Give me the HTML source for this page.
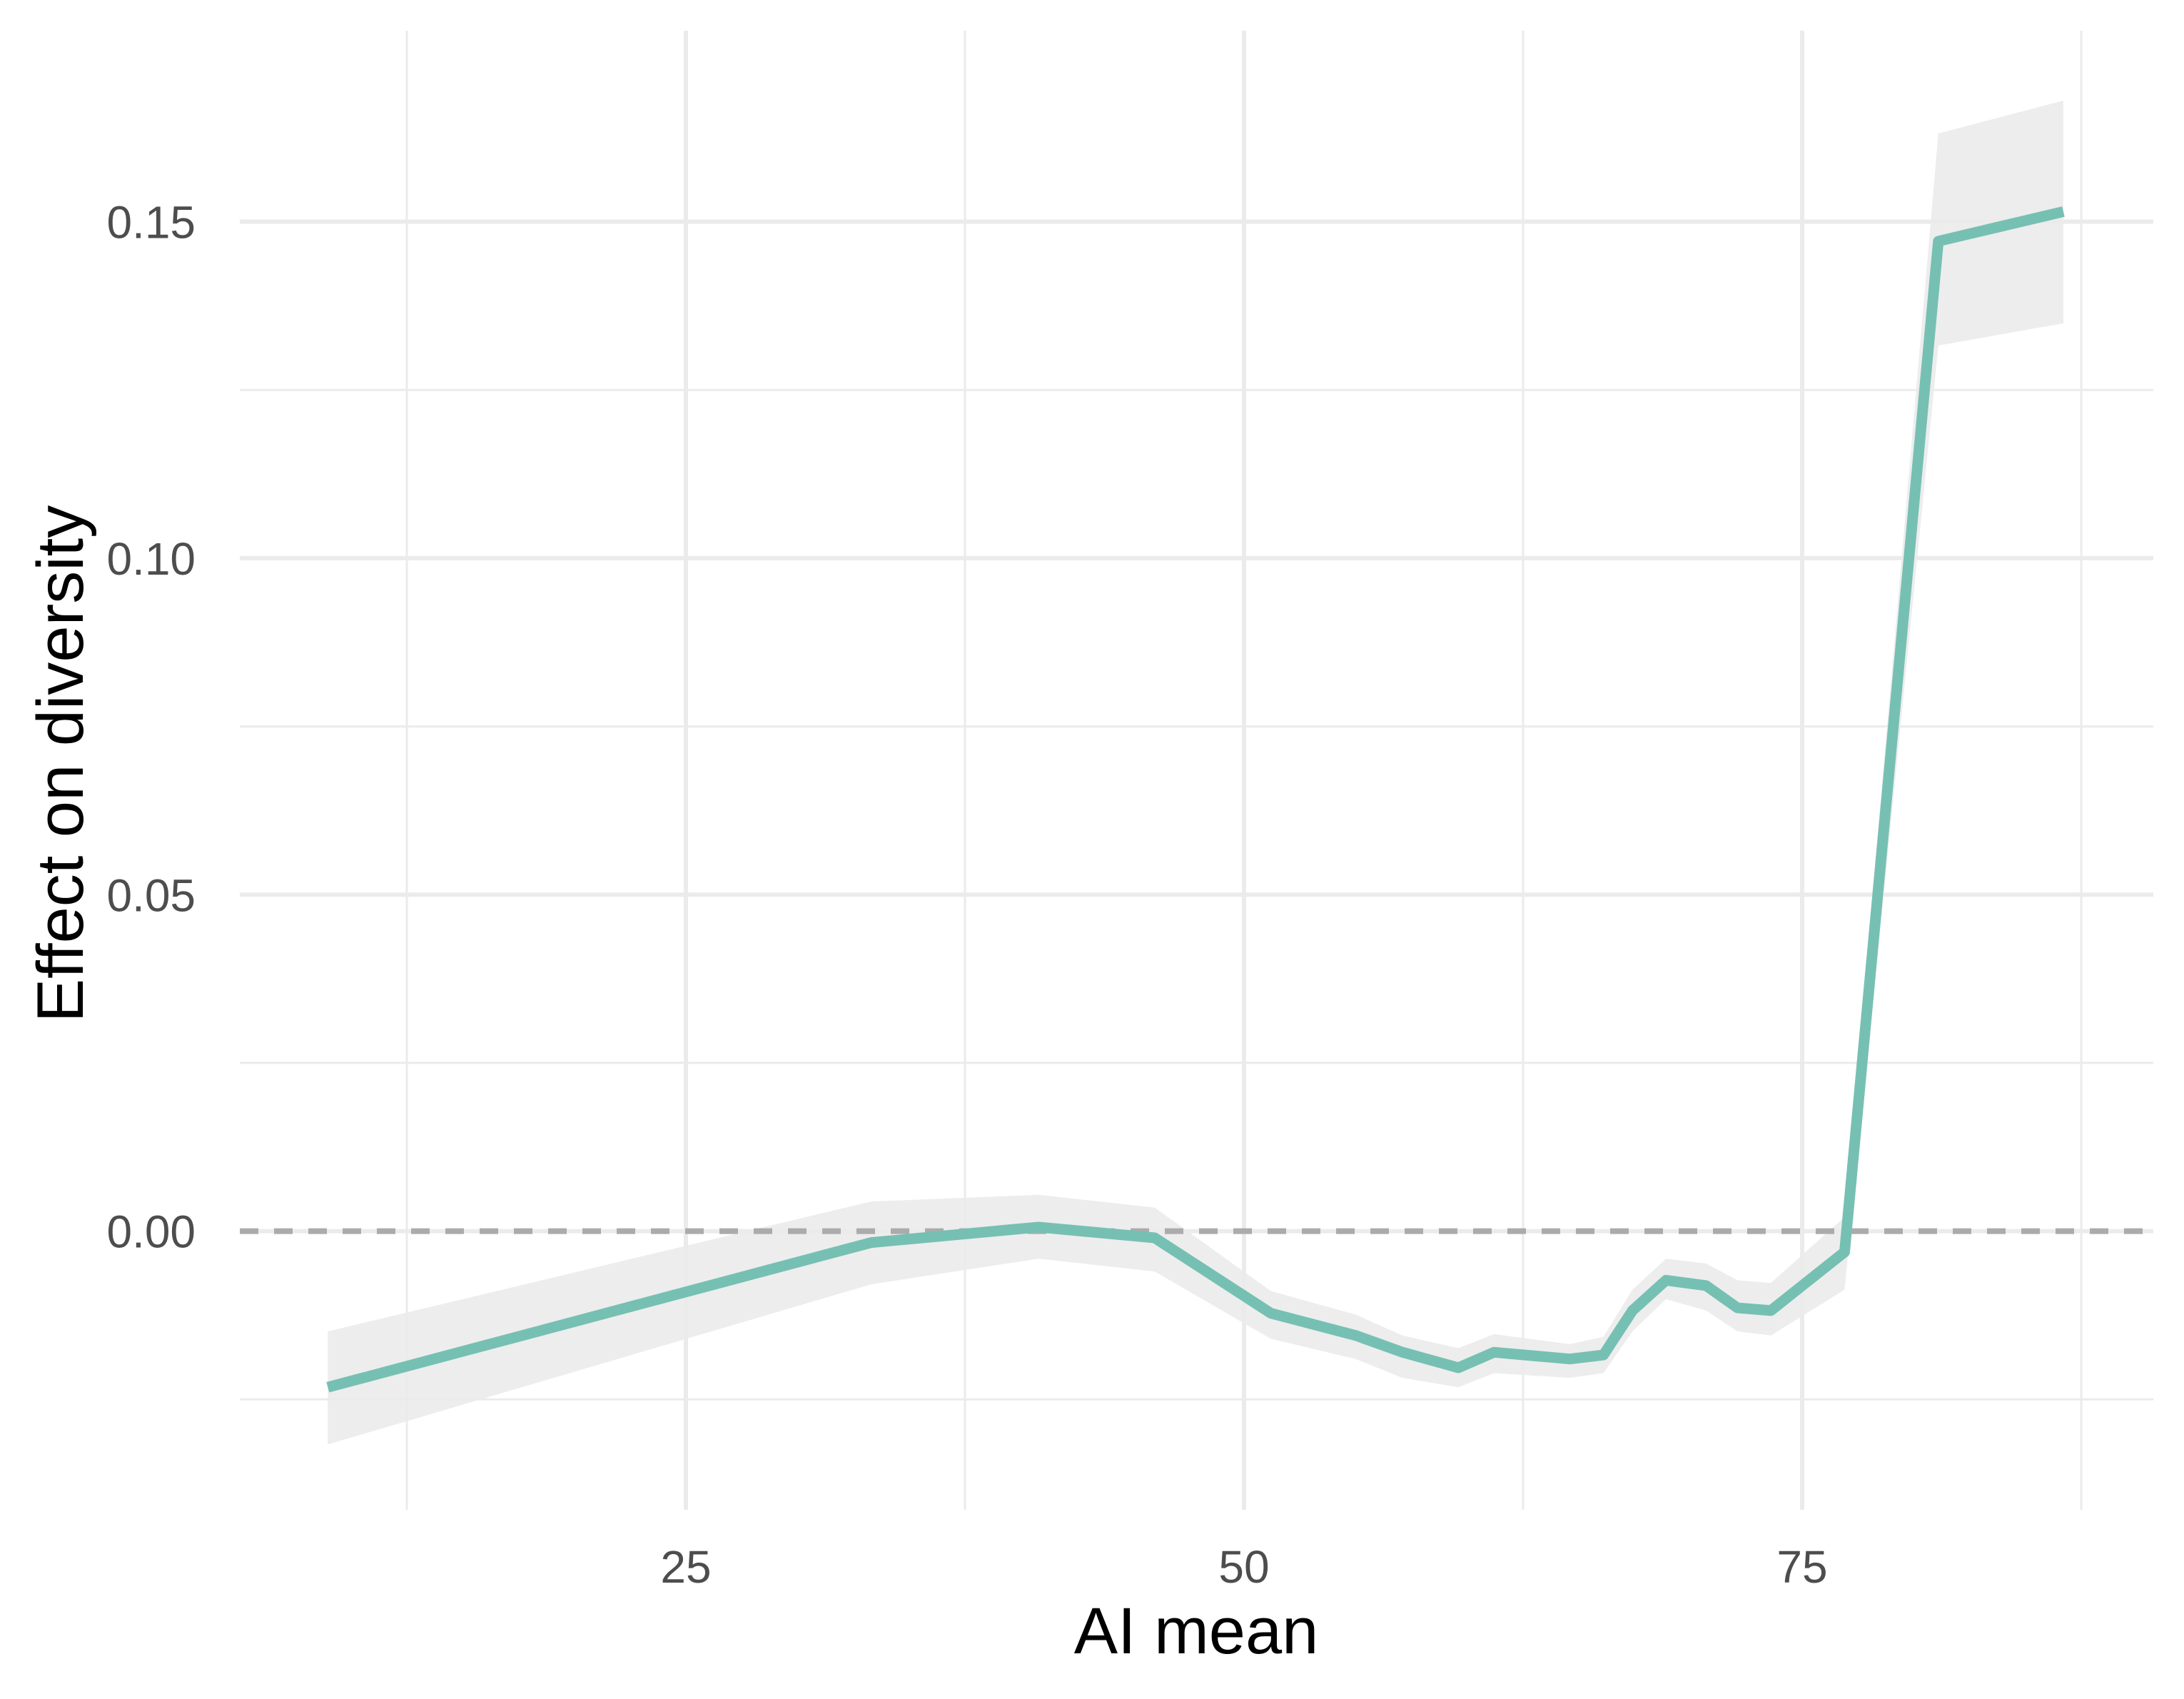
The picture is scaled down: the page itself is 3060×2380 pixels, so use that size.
<!DOCTYPE html>
<html><head><meta charset="utf-8"><style>
html,body{margin:0;padding:0;background:#fff;}
svg{display:block;font-family:"Liberation Sans",sans-serif;}
</style></head><body>
<svg id="chart" width="3060" height="2380" viewBox="0 0 3060 2380" xmlns="http://www.w3.org/2000/svg">
<g id="grid"></g>
<g id="ribbon"></g>
<g id="zero"></g>
<g id="line"></g>
<g id="xticks"></g>
<g id="yticks"></g>
<text x="1676" y="2316" font-size="92" text-anchor="middle" fill="#000">AI mean</text>
<text transform="translate(116,1070) rotate(-90)" font-size="92" text-anchor="middle" fill="#000">Effect on diversity</text>
</svg>
<script>
const xVals=[8.96,33.3,40.8,46.0,51.2,55.0,57.1,59.6,61.2,64.6,66.1,67.4,68.9,70.7,72.1,73.6,76.9,81.1,86.7];
const yVals=[-0.0232,-0.0017,0.0006,-0.001,-0.0122,-0.0155,-0.018,-0.0203,-0.018,-0.019,-0.0184,-0.0118,-0.0073,-0.0081,-0.0114,-0.0118,-0.0031,0.1471,0.1515];
const upperVals=[-0.0149,0.0044,0.0054,0.0035,-0.0089,-0.0124,-0.0155,-0.0174,-0.0153,-0.0168,-0.0157,-0.0087,-0.0041,-0.0048,-0.0073,-0.0077,0.0021,0.1631,0.168];
const lowerVals=[-0.0317,-0.0079,-0.0041,-0.006,-0.016,-0.019,-0.0218,-0.0232,-0.0211,-0.0218,-0.0211,-0.0149,-0.0101,-0.0118,-0.0149,-0.0155,-0.0087,0.1316,0.1349];
const xTicks=[25,50,75];
const xMinor=[12.5,37.5,62.5,87.5];
const yTicks=[0,0.05,0.10,0.15];
const yTickLabels=["0.00","0.05","0.10","0.15"];
const yMinor=[-0.025,0.025,0.075,0.125];

const NS="http://www.w3.org/2000/svg";
const PL=336,PR=3017,PT=43,PB=2115;
function sx(v){return 179+v*31.28;}
function sy(v){return 1724.6-v*9427;}
function mk(tag,attrs,parent){const e=document.createElementNS(NS,tag);for(const k in attrs)e.setAttribute(k,attrs[k]);parent.appendChild(e);return e;}
const grid=document.getElementById('grid');
yMinor.forEach(v=>{const l=mk('line',{x1:PL,x2:PR,y1:sy(v),y2:sy(v),stroke:'#ebebeb','stroke-width':3},grid);

});
xMinor.forEach(v=>{const l=mk('line',{x1:sx(v),x2:sx(v),y1:PT,y2:PB,stroke:'#ebebeb','stroke-width':3},grid);

});
yTicks.forEach(v=>{const l=mk('line',{x1:PL,x2:PR,y1:sy(v),y2:sy(v),stroke:'#ebebeb','stroke-width':6},grid);

});
xTicks.forEach(v=>{const l=mk('line',{x1:sx(v),x2:sx(v),y1:PT,y2:PB,stroke:'#ebebeb','stroke-width':6},grid);

});
let pts=xVals.map((x,i)=>sx(x)+','+sy(upperVals[i]));
for(let i=xVals.length-1;i>=0;i--)pts.push(sx(xVals[i])+','+sy(lowerVals[i]));
const rib=mk('polygon',{points:pts.join(' '),fill:'#ebebeb','fill-opacity':0.9},document.getElementById('ribbon'));


const z=mk('line',{x1:PL,x2:PR,y1:sy(0),y2:sy(0),stroke:'#ababab','stroke-width':8,'stroke-dasharray':'26 22'},document.getElementById('zero'));


const ln=mk('polyline',{points:xVals.map((x,i)=>sx(x)+','+sy(yVals[i])).join(' '),fill:'none',stroke:'#76c0b3','stroke-width':15,'stroke-linejoin':'round'},document.getElementById('line'));


xTicks.forEach(v=>{const t=mk('text',{x:sx(v),y:2217,'font-size':64,'text-anchor':'middle',fill:'#4d4d4d'},document.getElementById('xticks'));t.textContent=v;

});
yTicks.forEach((v,i)=>{const t=mk('text',{x:274,y:sy(v)+23,'font-size':64,'text-anchor':'end',fill:'#4d4d4d'},document.getElementById('yticks'));t.textContent=yTickLabels[i];

});
</script>
</body></html>
